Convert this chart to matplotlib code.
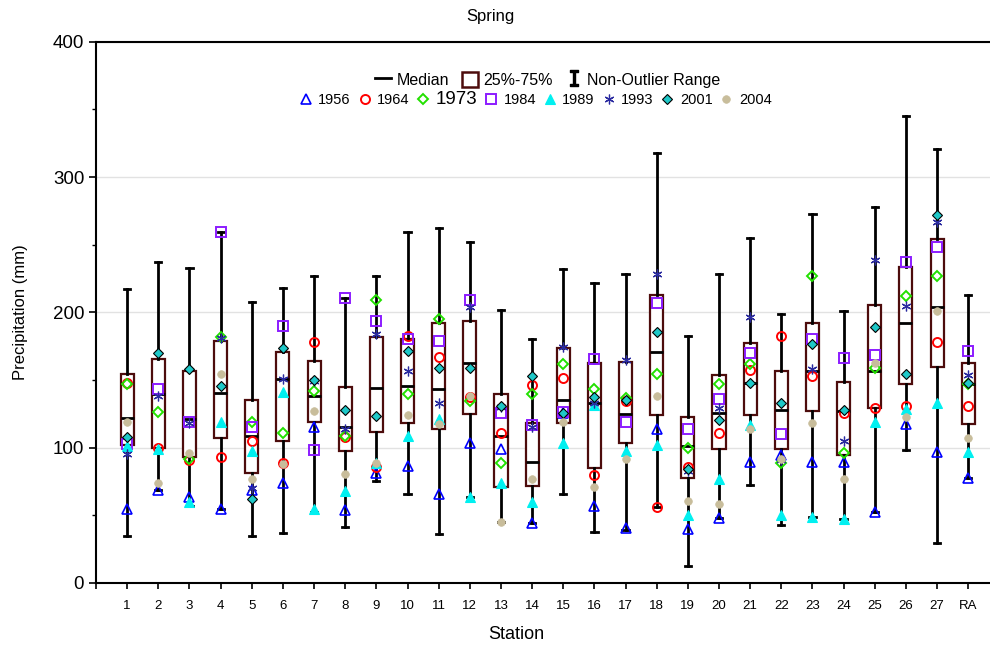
import numpy as np
import matplotlib
matplotlib.use("Agg")
import matplotlib.pyplot as plt
from matplotlib.lines import Line2D
from matplotlib.patches import Patch

plt.rcParams["font.family"] = ["Liberation Sans", "DejaVu Sans"]

# ── data (mm) ─────────────────────────────────────────────────────────────────
labels = [str(i) for i in range(1, 28)] + ["RA"]
whis_lo = [35, 69, 57, 55, 35, 36.7, 52.2, 41.6, 75.6, 65.5, 36.2, 63.7, 45.3, 44,
           65.5, 37.9, 39.1, 56.4, 12.8, 48.2, 72.2, 42.8, 49, 47, 52.7, 98.2, 29.8, 77.3]
q1 = [101.7, 99.5, 92.8, 107, 81.5, 104.9, 118.7, 97.5, 111.8, 118.4, 113.7, 125, 71.1, 71.9,
      118, 84.7, 103.2, 124, 77.8, 99, 124, 99, 127, 94.5, 129, 147, 159.8, 117.2]
med = [122.1, 139.6, 121.4, 140.6, 108.6, 150.4, 138.3, 115, 144.3, 145.7, 143.5, 162.7, 109, 89.6,
       135.2, 132.7, 124.8, 170.8, 101.2, 125.8, 147.9, 127.8, 156.8, 127.3, 156.8, 191.8, 203.6, 147]
q3 = [154.1, 165.4, 156.8, 179, 135, 170.8, 164, 145, 182, 180, 191.8, 193.5, 139.4, 118,
      174, 162.3, 163.4, 212.7, 122.4, 153.6, 177, 156.8, 192.5, 148.7, 205.3, 233.6, 254, 162.7]
whis_hi = [216.9, 236.9, 233, 259.5, 207.5, 218, 226.7, 210.7, 227, 259.2, 262.7, 251.8, 201.6, 180,
           231.7, 221.8, 228.2, 318, 182.7, 228.2, 255.3, 198.7, 272.5, 201.1, 277.9, 345, 321, 212.7]

y1956 = [55, 69, 63.8, 55, 69, 73.6, 115, 54, 81, 86.6, 65.5, 103.2, 99, 44,
         125.3, 57, 40.4, 113.5, 39.9, 48.2, 89.6, 94.5, 89.1, 89.1, 52.7, 117.4, 96.5, 77.8]
y1964 = [147.5, 100, 91, 92.8, 104.9, 88.4, 178, 108, 85.4, 182.7, 166.9, 137.6, 111, 146,
         151.6, 79.8, 134.6, 55.9, 85.9, 110.6, 157.3, 182.4, 152.9, 125.3, 129.5, 131, 178.2, 130.7]
y1973 = [147, 126, 92, 181.5, 118.7, 110.6, 141.8, 109, 209, 140, 195, 134.4, 88.4, 140,
         161.5, 143, 136.9, 154.1, 99.5, 147, 161.5, 88.4, 227.2, 95.8, 159, 212, 227.2, 147]
y1984 = [103, 143, 118.7, 259.5, 115, 189.6, 98.2, 210.7, 193.5, 180, 178.5, 209.2, 125.8, 116.7,
         126.5, 165.7, 119.2, 206.6, 113.7, 136.1, 170.1, 109.8, 180, 166, 168.4, 237.1, 248.4, 171.3]
y1989 = [101, 99, 60, 118.7, 97.5, 141.3, 55, 68.2, 88.4, 108.8, 120.9, 63.7, 73.6, 60,
         103.6, 131.5, 97.7, 102.2, 50.2, 76.8, 116.7, 50.2, 49, 47, 119.2, 128.3, 133.2, 96.5]
y1993 = [95, 138, 118, 180.7, 70, 150.7, 149.4, 114, 183.7, 156.8, 133.2, 204, 130.2, 115,
         174.5, 132.7, 164.7, 228.7, 82.9, 129.5, 196.7, 90.8, 157.8, 105.1, 238.6, 204.8, 266.6, 153.6]
y2001 = [108, 170, 158, 145.7, 61.8, 174, 150, 127.8, 123.6, 171.3, 158.6, 158.6, 130.5, 152.9,
         125.3, 137.2, 135.2, 185.4, 84.2, 120.4, 147.5, 133.2, 176.5, 127.8, 189.3, 154.4, 272.3, 147.9]
y2004 = [118.7, 73.6, 95.8, 154.8, 76.6, 87.9, 126.8, 80.5, 89, 124, 117.4, 138, 45.3, 76.6,
         118.7, 70.7, 91.8, 138.1, 60.8, 58.1, 113.5, 91.4, 118.4, 76.6, 162.3, 122.8, 201.1, 107.3]

BOX_EC = "#4d0c0c"
years = [
    ("1956", y1956, dict(marker="^", mfc="none", mec="#0000ff", ms=6.5, mew=1.2)),
    ("1964", y1964, dict(marker="o", mfc="none", mec="#ff0000", ms=6.5, mew=1.4)),
    ("1973", y1973, dict(marker="D", mfc="none", mec="#22e000", ms=5.2, mew=1.4)),
    ("1984", y1984, dict(marker="s", mfc="none", mec="#8c1cff", ms=6.5, mew=1.4)),
    ("1989", y1989, dict(marker="^", mfc="#00f0f0", mec="#00f0f0", ms=6.5, mew=0.8)),
    ("1993", y1993, dict(marker=(6, 2, 0), mfc="none", mec="#2a2aa0", ms=7, mew=0.9)),
    ("2001", y2001, dict(marker="D", mfc="#1ec8c8", mec="black", ms=5.0, mew=0.8)),
    ("2004", y2004, dict(marker="o", mfc="#c8bd9b", mec="#c8bd9b", ms=5.5, mew=0.5)),
]

pos = np.arange(1, len(labels) + 1)

fig = plt.figure(figsize=(9.9, 6.49), dpi=100)
ax = fig.add_axes([0.097, 0.1017, 0.903, 0.834])

# boxes from the five-number summaries
stats = [dict(whislo=a, q1=b, med=c, q3=d, whishi=e, fliers=[])
         for a, b, c, d, e in zip(whis_lo, q1, med, q3, whis_hi)]
ax.bxp(stats, positions=pos, widths=0.42, capwidths=0.2, patch_artist=True,
       showfliers=False,
       boxprops=dict(facecolor="white", edgecolor=BOX_EC, lw=1.6),
       medianprops=dict(color="black", lw=2.0),
       whiskerprops=dict(color="black", lw=2.0),
       capprops=dict(color="black", lw=2.0), zorder=2)

for name, vals, st in years:
    ax.plot(pos, vals, ls="none", zorder=3, **st)

ax.set_xlim(0, 28.7)
ax.set_ylim(0, 400)
ax.set_xticks(np.arange(0, 29))
ax.set_xticklabels([""] + labels, fontsize=9.5)
ax.set_yticks([0, 100, 200, 300, 400])
ax.set_yticks([50, 150, 250, 350], minor=True)
ax.tick_params(axis="y", which="major", labelsize=13.5, length=5, width=1.2, direction="out")
ax.tick_params(axis="y", which="minor", length=3, width=1.0, direction="out")
ax.tick_params(axis="x", length=4, width=1.2, direction="out", pad=8)
ax.yaxis.grid(True, color="#e2e2e2", lw=1.0)
ax.set_axisbelow(True)
for s in ["top", "left", "bottom"]:
    ax.spines[s].set_linewidth(1.5)
ax.spines["right"].set_visible(False)

ax.set_xlabel("Station", fontsize=13)
ax.xaxis.set_label_coords(0.47, -0.08)
ax.set_ylabel("Precipitation (mm)", fontsize=12)
ax.yaxis.set_label_coords(-0.076, 0.5)
fig.text(0.495, 1 - 17 / 649, "Spring", ha="center", va="center", fontsize=12)

# legends
h1 = [Line2D([], [], color="black", lw=2),
      Patch(facecolor="white", edgecolor=BOX_EC, lw=1.8),
      Line2D([], [], ls="none", marker=r"$\mathtt{I}$", color="black", ms=11)]
leg1 = fig.legend(h1, ["Median", "25%-75%", "Non-Outlier Range"], ncol=3,
                  loc="center", bbox_to_anchor=(548 / 990, 1 - 80 / 649), frameon=False,
                  fontsize=11.5, handlelength=1.0, handleheight=1.1, handletextpad=0.35,
                  columnspacing=0.8, borderpad=0)
h2 = [Line2D([], [], ls="none", **st) for _, _, st in years]
leg2 = fig.legend(h2, [n for n, _, _ in years], ncol=8,
                  loc="center", bbox_to_anchor=(535 / 990, 1 - 100 / 649), frameon=False,
                  fontsize=10.5, handlelength=1.0, handletextpad=0.35,
                  columnspacing=0.45, borderpad=0)
leg2.get_texts()[2].set_fontsize(13.5)

fig.savefig("out.png", dpi=100)
